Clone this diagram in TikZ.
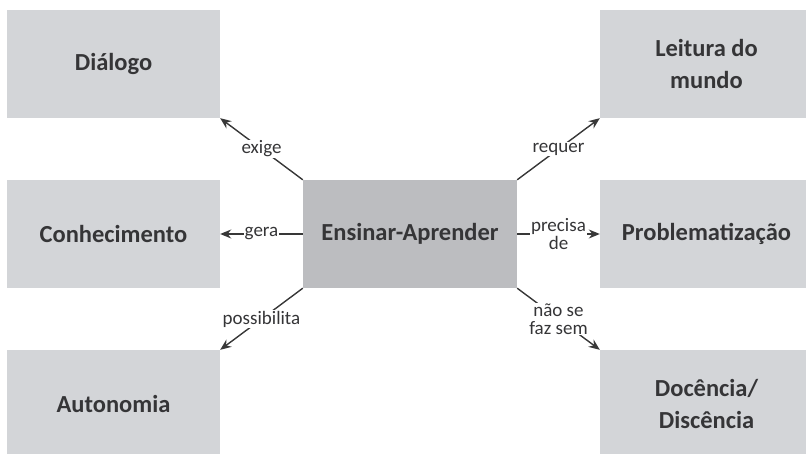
\documentclass[tikz,border=0pt]{standalone}
\usepackage{fontspec}
\setmainfont{Carlito}
\usetikzlibrary{arrows.meta}
\definecolor{boxgray}{HTML}{D3D5D8}
\definecolor{centergray}{HTML}{BCBDC0}
\definecolor{txtgray}{HTML}{353537}
\definecolor{linegray}{HTML}{383838}
\tikzset{
  outerbox/.style={rectangle, fill=boxgray, minimum width=213pt, minimum height=108pt, inner sep=0pt,
    text=txtgray, font=\fontsize{24.5}{32.5}\selectfont\bfseries, align=center},
  centerbox/.style={outerbox, fill=centergray, minimum width=214pt},
  conn/.style={draw=linegray, line width=1.4pt, -{Stealth[length=11pt,width=9pt]}},
  lbl/.style={fill=white, inner sep=1pt, text=txtgray, font=\fontsize{19}{17.5}\selectfont, align=center}
}
\begin{document}
\begin{tikzpicture}[x=1pt,y=-1pt]
\clip (0,0) rectangle (806,454);
\useasboundingbox (0,0) rectangle (806,454);
\node[outerbox] (dia) at (113.5,64) {Diálogo};
\node[outerbox] (con) at (113.5,234) {Conhecimento};
\node[outerbox] (aut) at (113.5,404) {Autonomia};
\node[outerbox] (lei) at (706.5,64) {Leitura do\\mundo};
\node[outerbox] (pro) at (706.5,234) {Problematização};
\node[outerbox] (doc) at (706.5,404) {Docência/\\Discência};
\node[centerbox] (ens) at (410,234) {Ensinar-Aprender};
\draw[conn] (ens.north west) -- node[lbl] {exige} (dia.south east);
\draw[conn] (ens.west) -- node[lbl] {gera} (con.east);
\draw[conn] (ens.south west) -- node[lbl] {possibilita} (aut.north east);
\draw[conn] (ens.north east) -- node[lbl] {requer} (lei.south west);
\draw[conn] (ens.east) -- node[lbl] {precisa\\de} (pro.west);
\draw[conn] (ens.south east) -- node[lbl] {não se\\faz sem} (doc.north west);
\end{tikzpicture}
\end{document}
